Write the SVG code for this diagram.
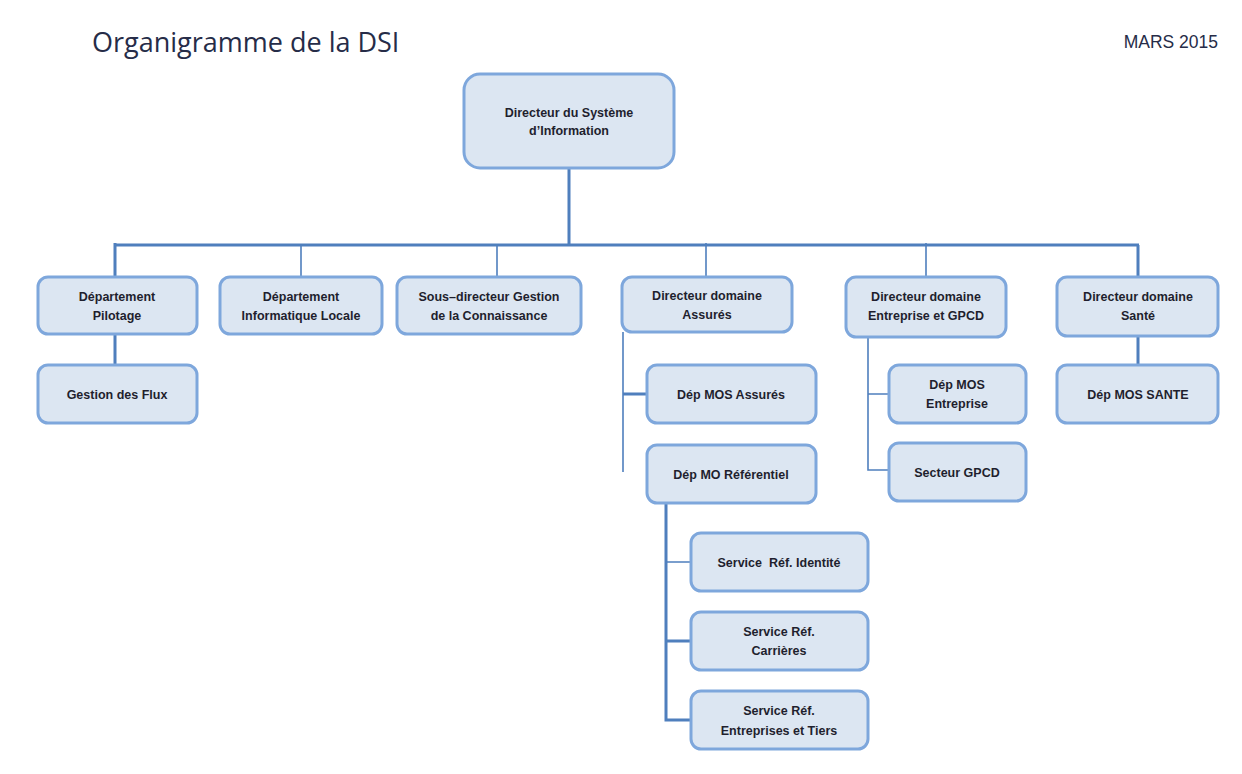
<svg xmlns="http://www.w3.org/2000/svg" width="1242" height="774" viewBox="0 0 1242 774">
<style>
.box{fill:#dce6f2;stroke:#7ea7dc;stroke-width:3}
.t{font-family:"Liberation Sans",Arial,sans-serif;font-weight:bold;font-size:12.5px;fill:#1f1f2e;text-anchor:middle}
.thick{stroke:#4f7fbd;stroke-width:3;fill:none}
.thin{stroke:#4f7fbd;stroke-width:1.6;fill:none}
</style>
<rect width="1242" height="774" fill="#ffffff"/>
<text x="92" y="52" font-family="Open Sans, Liberation Sans, sans-serif" font-size="27" fill="#262c48">Organigramme de la DSI</text>
<text x="1218" y="48" font-family="Liberation Sans, Arial, sans-serif" font-size="17.5" fill="#262c48" text-anchor="end">MARS 2015</text>
<g id="connectors">
<path class="thick" d="M569 168V245M115 245H1139M115 243V277M115 334V365M1138 245V277M1138 336V365"/>
<path class="thin" d="M301 245V277M497 245V277M706 243V277M926 243V277"/>
<path class="thin" d="M623 332V472M868 337V470H889M868 394H889M666 562H691"/>
<path class="thick" d="M623 394H647M666 503V720H691M666 641H691"/>
</g>
<g id="n-dsi"><rect class="box" x="464" y="74" width="210" height="94" rx="16"/><text class="t" x="569" y="117">Directeur du Système</text><text class="t" x="569" y="135">d’Information</text></g>
<g id="n-pilotage"><rect class="box" x="38" y="277" width="159" height="57" rx="10"/><text class="t" x="117" y="301">Département</text><text class="t" x="117" y="320">Pilotage</text></g>
<g id="n-info"><rect class="box" x="220" y="277" width="162" height="57" rx="10"/><text class="t" x="301" y="301">Département</text><text class="t" x="301" y="320">Informatique Locale</text></g>
<g id="n-sousdir"><rect class="box" x="397" y="277" width="184" height="57" rx="10"/><text class="t" x="489" y="301">Sous–directeur Gestion</text><text class="t" x="489" y="320">de la Connaissance</text></g>
<g id="n-assures"><rect class="box" x="622" y="277" width="170" height="55" rx="10"/><text class="t" x="707" y="300">Directeur domaine</text><text class="t" x="707" y="319">Assurés</text></g>
<g id="n-entreprise"><rect class="box" x="846" y="277" width="160" height="60" rx="10"/><text class="t" x="926" y="301">Directeur domaine</text><text class="t" x="926" y="320">Entreprise et GPCD</text></g>
<g id="n-sante"><rect class="box" x="1057" y="277" width="161" height="59" rx="10"/><text class="t" x="1138" y="301">Directeur domaine</text><text class="t" x="1138" y="320">Santé</text></g>
<g id="n-flux"><rect class="box" x="38" y="365" width="159" height="58" rx="10"/><text class="t" x="117" y="399">Gestion des Flux</text></g>
<g id="n-mosassures"><rect class="box" x="647" y="365" width="169" height="58" rx="10"/><text class="t" x="731" y="399">Dép MOS Assurés</text></g>
<g id="n-moref"><rect class="box" x="647" y="445" width="169" height="58" rx="10"/><text class="t" x="731" y="479">Dép MO Référentiel</text></g>
<g id="n-mosentreprise"><rect class="box" x="889" y="365" width="137" height="58" rx="10"/><text class="t" x="957" y="389">Dép MOS</text><text class="t" x="957" y="408">Entreprise</text></g>
<g id="n-gpcd"><rect class="box" x="889" y="443" width="137" height="58" rx="10"/><text class="t" x="957" y="477">Secteur GPCD</text></g>
<g id="n-mossante"><rect class="box" x="1057" y="365" width="161" height="58" rx="10"/><text class="t" x="1138" y="399">Dép MOS SANTE</text></g>
<g id="n-identite"><rect class="box" x="691" y="533" width="177" height="58" rx="10"/><text class="t" x="779" y="567" xml:space="preserve">Service  Réf. Identité</text></g>
<g id="n-carrieres"><rect class="box" x="691" y="612" width="177" height="58" rx="10"/><text class="t" x="779" y="636">Service Réf.</text><text class="t" x="779" y="655">Carrières</text></g>
<g id="n-tiers"><rect class="box" x="691" y="691" width="177" height="58" rx="10"/><text class="t" x="779" y="715">Service Réf.</text><text class="t" x="779" y="735">Entreprises et Tiers</text></g>
</svg>
